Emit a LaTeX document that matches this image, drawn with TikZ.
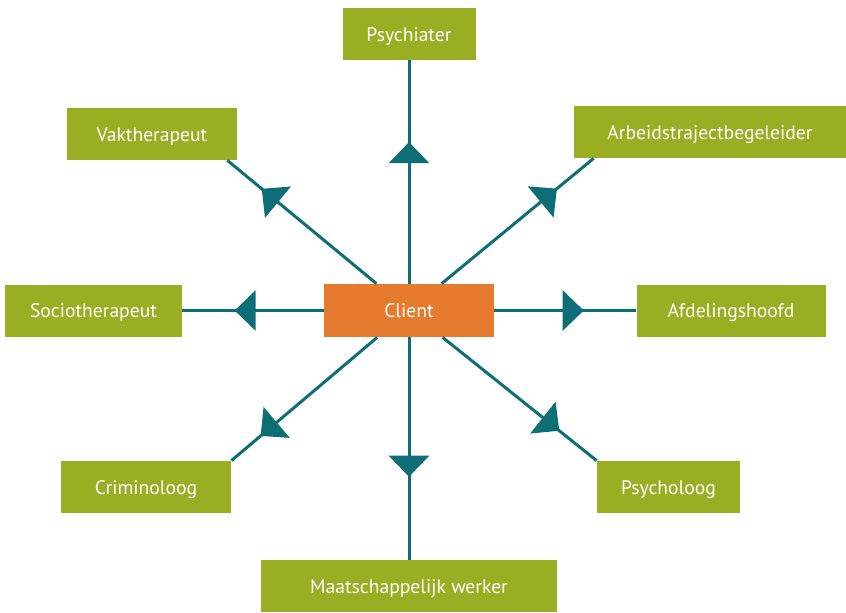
\documentclass[tikz,border=0pt]{standalone}
\usepackage{fontspec}
\setmainfont{PT Sans}
\usetikzlibrary{arrows.meta, decorations.markings}
\definecolor{rolegreen}{HTML}{9AAE24}
\definecolor{clientorange}{HTML}{E67A2E}
\definecolor{linkteal}{HTML}{0E6E76}
\tikzset{%
  every role/.style={
    fill=rolegreen,
    text=white,
    minimum height=26pt,
    inner sep=0pt,
    text height=7pt,
    text depth=0pt
  },
  client/.style={
    fill=clientorange,
    minimum width=85pt,
    minimum height=26.5pt
  },
  link/.style={
    draw=linkteal,
    line width=1.5pt
  },
  mid arrow/.style={
    postaction={decorate},
    decoration={markings,
      mark=at position #1 with {\arrow{Triangle[width=20pt, length=10.5pt]}}}
  },
}

\begin{document}
\begin{tikzpicture}[x=0.5pt, y=-0.5pt, font=\fontsize{9.8}{11}\selectfont]
  \useasboundingbox (0,0) rectangle (846,612);

  % Client in the middle
  \node [every role/.try, client] (client) at (409,310.5) {Client};

  % Roles around the client
  \foreach \m/\l/\w/\x/\y in {psychiater/Psychiater/66.5/409/34,
                              vaktherapeut/Vaktherapeut/85/152/134,
                              arbeid/Arbeidstrajectbegeleider/136/710/132,
                              sociotherapeut/Sociotherapeut/88.5/93.5/310.5,
                              afdeling/Afdelingshoofd/94.5/731/310.5,
                              criminoloog/Criminoloog/85/146/487,
                              psycholoog/Psycholoog/71.5/668.5/487,
                              maatschappelijk/Maatschappelijk werker/148/409/586}
    \node [every role/.try, minimum width=\w pt] (\m) at (\x,\y) {\l};

  % Straight lines from client to roles
  \foreach \m/\p in {psychiater/0.634, sociotherapeut/0.63,
                     afdeling/0.63, maatschappelijk/0.627}
    \draw [link, mid arrow=\p] (client) -- (\m);

  % Slanted lines from client to roles
  \draw [link, mid arrow=0.77] (client) -- ([xshift=-5pt]vaktherapeut.south east);
  \draw [link, mid arrow=0.76] (client) -- ([xshift=10pt]arbeid.south west);
  \draw [link, mid arrow=0.80] (client) -- (criminoloog.north east);
  \draw [link, mid arrow=0.76] (client) -- (psycholoog.north west);

\end{tikzpicture}
\end{document}
